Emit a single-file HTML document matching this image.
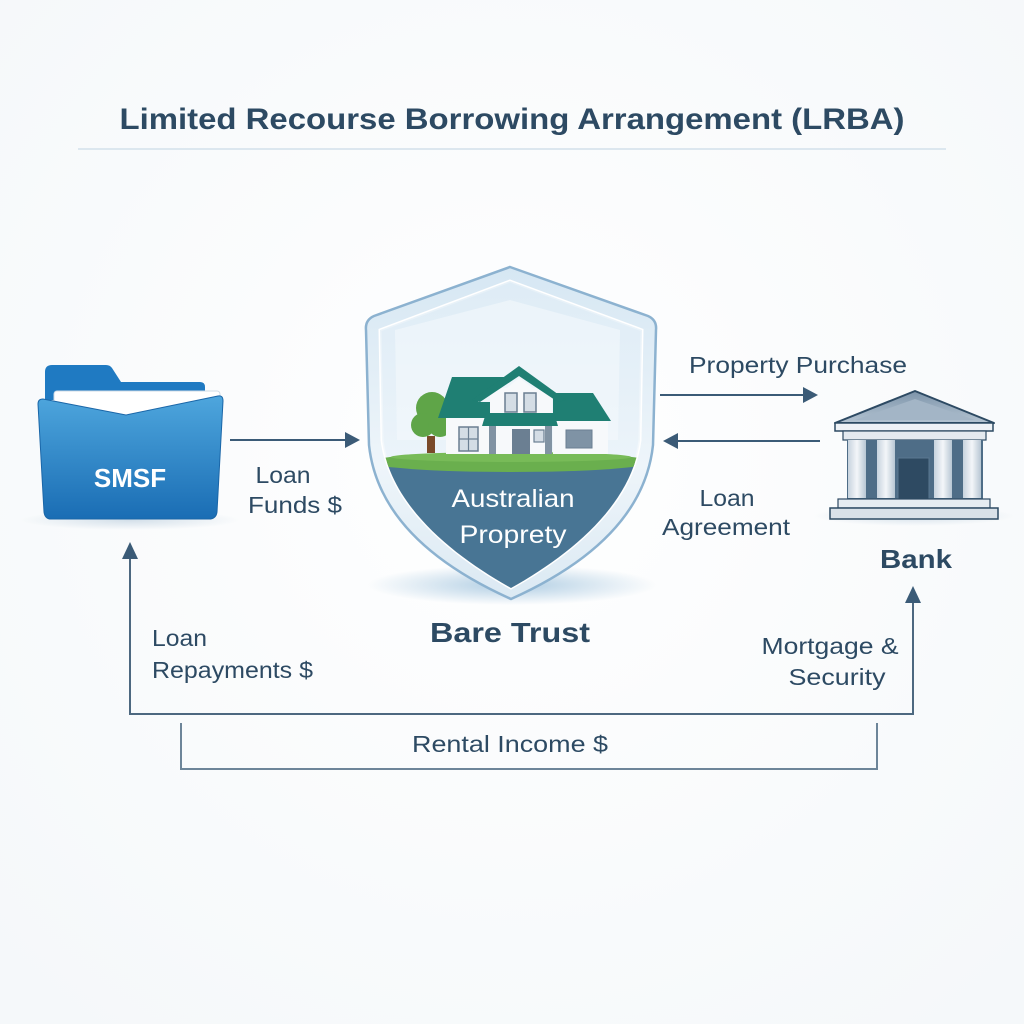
<!DOCTYPE html>
<html><head><meta charset="utf-8"><style>
html,body{margin:0;padding:0;background:#f8fafc;}
svg{display:block;}
text{font-family:"Liberation Sans",sans-serif;fill:#2d4a63;}
</style></head><body>
<svg width="1024" height="1024" viewBox="0 0 1024 1024" xmlns="http://www.w3.org/2000/svg">
<defs>
<radialGradient id="bg" cx="50%" cy="45%" r="70%"><stop offset="0" stop-color="#ffffff"/><stop offset="1" stop-color="#f5f8fa"/></radialGradient>
<linearGradient id="fold" x1="0" y1="0" x2="0" y2="1"><stop offset="0" stop-color="#4ea6dd"/><stop offset="1" stop-color="#1a6db4"/></linearGradient>
<linearGradient id="glass" x1="0" y1="0" x2="0" y2="1"><stop offset="0" stop-color="#d6e7f3"/><stop offset="0.6" stop-color="#eef5fa"/><stop offset="1" stop-color="#dbe9f3"/></linearGradient>
<linearGradient id="ped" x1="0" y1="0" x2="0" y2="1"><stop offset="0" stop-color="#7d94aa"/><stop offset="1" stop-color="#b3c3d1"/></linearGradient>
<linearGradient id="col" x1="0" y1="0" x2="1" y2="0"><stop offset="0" stop-color="#c7d3de"/><stop offset="0.5" stop-color="#f3f6f9"/><stop offset="1" stop-color="#b7c6d3"/></linearGradient>
<radialGradient id="sh" cx="50%" cy="50%" r="50%"><stop offset="0" stop-color="#9cc1dc" stop-opacity="0.8"/><stop offset="1" stop-color="#9cc1dc" stop-opacity="0"/></radialGradient>
<radialGradient id="sh2" cx="50%" cy="50%" r="50%"><stop offset="0" stop-color="#c9d8e4" stop-opacity="0.8"/><stop offset="1" stop-color="#c9d8e4" stop-opacity="0"/></radialGradient>
<clipPath id="inner"><path d="M510,281 L642,330 L640,440 C632,505 570,555 511,588 C452,555 390,505 382,440 L380,330 Z"/></clipPath>
</defs>
<rect width="1024" height="1024" fill="url(#bg)"/>

<!-- Title -->
<text x="512" y="129" text-anchor="middle" font-size="30" font-weight="bold" textLength="785" lengthAdjust="spacingAndGlyphs">Limited Recourse Borrowing Arrangement (LRBA)</text>
<rect x="78" y="148" width="868" height="2" fill="#dce7ef"/>

<!-- Folder -->
<ellipse cx="130" cy="520" rx="110" ry="10" fill="url(#sh2)"/>
<path d="M45,372 Q45,365 52,365 L106,365 Q110,365 112,368 L121,382 L200,382 Q205,382 205,387 L205,400 L45,400 Z" fill="#1f7ac2"/>
<rect x="54" y="391" width="166" height="32" rx="3" fill="#ffffff" stroke="#cfdbe6" stroke-width="1"/>
<path d="M38,404 Q38,399 43,399 L126,415 L218,396 Q223,395 223,401 L217,512 Q216,519 209,519 L51,519 Q45,519 44,512 Z" fill="url(#fold)" stroke="#1a66a8" stroke-width="1"/>
<text x="130" y="487" text-anchor="middle" font-size="26" font-weight="bold" style="fill:#ffffff">SMSF</text>

<!-- Loan funds arrow -->
<line x1="230" y1="440" x2="348" y2="440" stroke="#3b5b77" stroke-width="2"/>
<polygon points="360,440 345,432 345,448" fill="#3b5b77"/>
<text x="283" y="483" text-anchor="middle" font-size="23" textLength="55" lengthAdjust="spacingAndGlyphs">Loan</text>
<text x="295" y="513" text-anchor="middle" font-size="23" textLength="94" lengthAdjust="spacingAndGlyphs">Funds $</text>

<!-- Shield -->
<ellipse cx="512" cy="585" rx="145" ry="20" fill="url(#sh)"/>
<path d="M510,267 L648,316 Q657,320 656,330 L653,445 C645,520 580,568 511,599 C442,568 377,520 369,445 L366,330 Q365,320 374,316 Z" fill="url(#glass)" stroke="#8cb2d0" stroke-width="2.5"/>
<path d="M510,281 L642,330 L640,440 C632,505 570,555 511,588 C452,555 390,505 382,440 L380,330 Z" fill="#eaf3fa" stroke="#ffffff" stroke-width="3"/>
<g clip-path="url(#inner)">
<rect x="370" y="280" width="290" height="320" fill="url(#glass)" opacity="0.6"/>
<path d="M395,330 L510,300 L620,330 L618,440 L397,440 Z" fill="#f4f9fc" opacity="0.6"/>
<rect x="370" y="462" width="290" height="140" fill="#487594"/>
<ellipse cx="511" cy="462" rx="140" ry="10" fill="#6aaf4e"/>
<ellipse cx="511" cy="457" rx="120" ry="5" fill="#78bb58"/>
</g>
<!-- tree -->
<rect x="427" y="436" width="8" height="17" fill="#7a4a2a"/>
<circle cx="432" cy="408" r="16" fill="#5fa548"/>
<circle cx="423" cy="425" r="12" fill="#5fa548"/>
<circle cx="440" cy="425" r="12" fill="#5fa548"/>
<!-- house -->
<rect x="446" y="415" width="45" height="39" fill="#f7f9fb"/>
<rect x="553" y="419" width="55" height="35" fill="#f7f9fb"/>
<rect x="490" y="388" width="62" height="66" fill="#f7f9fb"/>
<polygon points="438,418 452,377 505,377 478,402 490,402 490,418" fill="#1f7f73"/>
<polygon points="553,393 593,393 611,421 553,421" fill="#1f7f73"/>
<polygon points="519,366 566,400 558,402 519,376 480,402 472,400" fill="#1f7f73"/>
<polygon points="490,402 519,378 552,402 552,412 490,412" fill="#f7f9fb"/>
<rect x="505" y="393" width="12" height="19" fill="#d4dde5" stroke="#6b7f92" stroke-width="1.5"/>
<rect x="524" y="393" width="12" height="19" fill="#d4dde5" stroke="#6b7f92" stroke-width="1.5"/>
<polygon points="486,413 554,413 558,426 482,426" fill="#1f7f73"/>
<rect x="489" y="426" width="7" height="28" fill="#8193a3"/>
<rect x="545" y="426" width="7" height="28" fill="#8193a3"/>
<rect x="512" y="429" width="18" height="25" fill="#6b7f92"/>
<rect x="534" y="430" width="10" height="12" fill="#d4dde5" stroke="#6b7f92" stroke-width="1.2"/>
<rect x="459" y="427" width="19" height="24" fill="#d4dde5" stroke="#6b7f92" stroke-width="1.5"/>
<line x1="468.5" y1="427" x2="468.5" y2="451" stroke="#6b7f92" stroke-width="1.2"/>
<line x1="459" y1="439" x2="478" y2="439" stroke="#6b7f92" stroke-width="1.2"/>
<rect x="566" y="430" width="26" height="18" fill="#7f93a5" stroke="#6b7f92" stroke-width="1"/>
<text x="513" y="507" text-anchor="middle" font-size="25" style="fill:#ffffff" textLength="123" lengthAdjust="spacingAndGlyphs">Australian</text>
<text x="513" y="543" text-anchor="middle" font-size="25" style="fill:#ffffff" textLength="107" lengthAdjust="spacingAndGlyphs">Proprety</text>

<text x="510" y="642" text-anchor="middle" font-size="28" font-weight="bold" textLength="160" lengthAdjust="spacingAndGlyphs">Bare Trust</text>

<!-- Right arrows -->
<text x="798" y="373" text-anchor="middle" font-size="23" textLength="218" lengthAdjust="spacingAndGlyphs">Property Purchase</text>
<line x1="660" y1="395" x2="806" y2="395" stroke="#3b5b77" stroke-width="2"/>
<polygon points="818,395 803,387 803,403" fill="#3b5b77"/>
<line x1="820" y1="441" x2="676" y2="441" stroke="#3b5b77" stroke-width="2"/>
<polygon points="663,441 678,433 678,449" fill="#3b5b77"/>
<text x="727" y="506" text-anchor="middle" font-size="23" textLength="55" lengthAdjust="spacingAndGlyphs">Loan</text>
<text x="726" y="535" text-anchor="middle" font-size="23" textLength="128" lengthAdjust="spacingAndGlyphs">Agreement</text>

<!-- Bank -->
<ellipse cx="914" cy="516" rx="100" ry="10" fill="url(#sh2)"/>
<polygon points="915,391 994,423 835,423" fill="url(#ped)" stroke="#2d4a63" stroke-width="2" stroke-linejoin="round"/>
<polygon points="915,399 975,420 855,420" fill="#a3b5c6"/>
<rect x="835" y="423" width="158" height="8" fill="#eef2f6" stroke="#2d4a63" stroke-width="1.5"/>
<rect x="843" y="431" width="143" height="9" fill="#e3e9ef" stroke="#2d4a63" stroke-width="1.2"/>
<rect x="847" y="440" width="136" height="60" fill="#4e6d87"/>
<rect x="848" y="440" width="18" height="58" fill="url(#col)"/>
<rect x="877" y="440" width="18" height="58" fill="url(#col)"/>
<rect x="934" y="440" width="18" height="58" fill="url(#col)"/>
<rect x="963" y="440" width="18" height="58" fill="url(#col)"/>
<rect x="898" y="458" width="31" height="42" fill="#2e4a62" stroke="#5b7890" stroke-width="1"/>
<rect x="838" y="499" width="152" height="9" fill="#e6ecf1" stroke="#2d4a63" stroke-width="1.2"/>
<rect x="830" y="508" width="168" height="11" fill="#d9e1e8" stroke="#2d4a63" stroke-width="1.5"/>
<text x="916" y="568" text-anchor="middle" font-size="26" font-weight="bold" textLength="72" lengthAdjust="spacingAndGlyphs">Bank</text>

<!-- Bottom loop -->
<polyline points="130,556 130,714 913,714 913,598" fill="none" stroke="#4d6880" stroke-width="2"/>
<polygon points="130,542 122,559 138,559" fill="#3b5b77"/>
<polygon points="913,586 905,603 921,603" fill="#3b5b77"/>
<polyline points="181,723 181,769 877,769 877,723" fill="none" stroke="#6d8599" stroke-width="2"/>
<text x="152" y="646" font-size="23" textLength="55" lengthAdjust="spacingAndGlyphs">Loan</text>
<text x="152" y="678" font-size="23" textLength="161" lengthAdjust="spacingAndGlyphs">Repayments $</text>
<text x="830" y="654" text-anchor="middle" font-size="23" textLength="137" lengthAdjust="spacingAndGlyphs">Mortgage &amp;</text>
<text x="837" y="685" text-anchor="middle" font-size="23" textLength="97" lengthAdjust="spacingAndGlyphs">Security</text>
<text x="510" y="752" text-anchor="middle" font-size="23" textLength="196" lengthAdjust="spacingAndGlyphs">Rental Income $</text>
</svg>
</body></html>
